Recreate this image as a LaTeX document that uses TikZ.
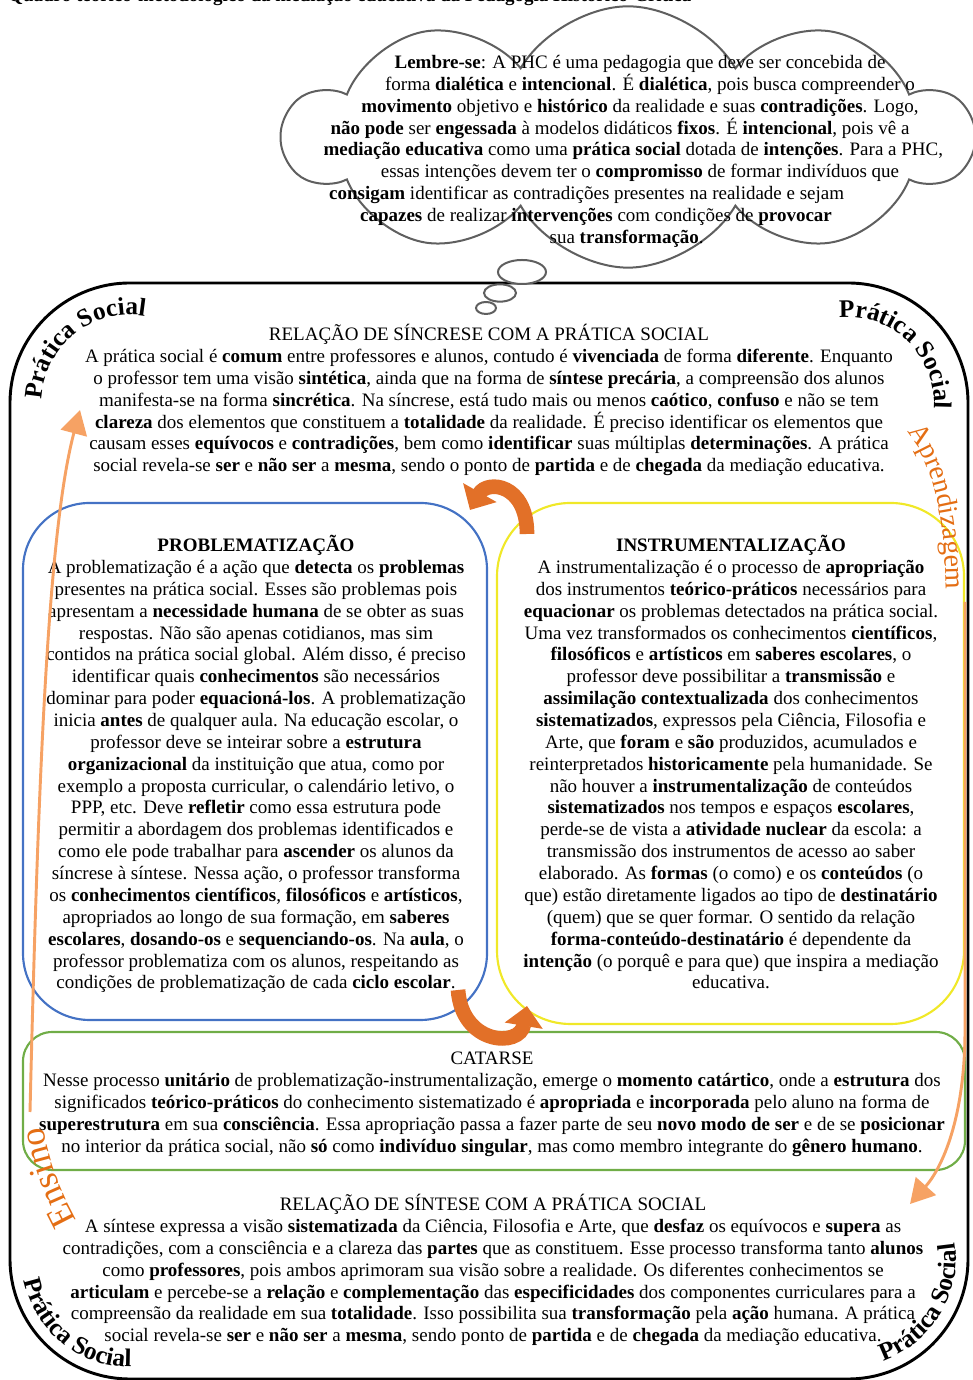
\documentclass[tikz,border=0pt]{standalone}
\usepackage{fontspec}
\setmainfont{Liberation Serif}
\usetikzlibrary{shapes.symbols,shapes.geometric,decorations.text,arrows.meta}

\definecolor{boxblue}{RGB}{68,114,196}
\definecolor{boxyellow}{RGB}{240,232,40}
\definecolor{boxgreen}{RGB}{112,173,71}
\definecolor{arrorange}{RGB}{226,112,40}
\definecolor{lineorange}{RGB}{246,162,100}
\definecolor{wordorange}{RGB}{228,110,20}
\definecolor{cloudgray}{RGB}{95,95,95}

\newcommand{\bodysize}{\fontsize{14.25}{16.4}\selectfont}
\newcommand{\kw}[1]{\textbf{#1}}
\newcommand{\padr}[1]{\rule{#1}{0pt}}

\tikzset{
  txtblock/.style={align=center, inner sep=0pt, anchor=north, font=\bodysize},
  stagebox/.style={line width=1.6pt},
  frameline/.style={line width=2.2pt, rounded corners=90pt},
  bubble/.style={ellipse, draw=cloudgray, line width=1.5pt, fill=white, inner sep=0pt},
  sidearrow/.style={lineorange, line width=2.2pt, -{Triangle[length=18pt,width=20pt]}},
  turnarrow/.style={arrorange, line width=11pt, -{Triangle[length=15pt,width=28pt]}},
  cornerword/.style={decorate, decoration={text along path, text align=center,
      text format delimiters={|}{|}, text={|\fontsize{19}{19}\bfseries\selectfont|Prática Social}}},
}

\begin{document}
\begin{tikzpicture}[x=0.75pt, y=0.75pt]
\useasboundingbox (0,0) rectangle (972,1380);

% cut title at the very top
\node[anchor=base west, inner sep=0pt, font=\bodysize\bfseries] (heading) at (8,1378)
  {Quadro teórico-metodológico da mediação educativa da Pedagogia Histórico-Crítica};

% thought cloud
\node[cloud, cloud puffs=10, cloud puff arc=120, cloud ignores aspect, minimum width=515pt,
  minimum height=196pt, draw=cloudgray, line width=1.5pt, fill=white] (thought) at (628,1243) {};
\node[txtblock] (lembre) at (640,1325) {\kw{Lembre-se}: A PHC é uma pedagogia que deve ser concebida de\\
\padr{15pt}forma \kw{dialética} e \kw{intencional}. É \kw{dialética}, pois busca compreender o\\
\kw{movimento} objetivo e \kw{histórico} da realidade e suas \kw{contradições}. Logo,\\
\kw{não pode} ser \kw{engessada} à modelos didáticos \kw{fixos}. É \kw{intencional}, pois vê a\padr{30pt}\\
\kw{mediação educativa} como uma \kw{prática social} dotada de \kw{intenções}. Para a PHC,\padr{10pt}\\
essas intenções devem ter o \kw{compromisso} de formar indivíduos que\\
\kw{consigam} identificar as contradições presentes na realidade e sejam\padr{80pt}\\
\kw{capazes} de realizar \kw{intervenções} com condições de \kw{provocar}\padr{66pt}\\
sua \kw{transformação}.\padr{20pt}};

% outer frame
\draw[frameline] (10,1) rectangle (968,1097);

% small bubbles of the cloud
\node[bubble, minimum width=36pt, minimum height=18pt] (bubbleA) at (522,1108) {};
\node[bubble, minimum width=24pt, minimum height=13pt] (bubbleB) at (500,1087) {};
\node[bubble, minimum width=15pt, minimum height=9pt] (bubbleC) at (486,1072) {};

% corner labels
\path[cornerword] (130,977) ++(180:88) arc[start angle=180, end angle=78, radius=88];
\path[cornerword] (848,977) ++(104:86) arc[start angle=104, end angle=-12, radius=86];
\path[cornerword] (130,121) ++(180:108) arc[start angle=180, end angle=282, radius=108];
\path[cornerword] (848,121) ++(284:108) arc[start angle=284, end angle=374, radius=108];

% stage boxes
\draw[stagebox, boxblue, rounded corners=50pt] (23,360) rectangle (487,877);
\draw[stagebox, boxyellow, rounded corners=55pt] (497,356) rectangle (964,877);
\draw[stagebox, boxgreen, rounded corners=22pt] (23,210) rectangle (965,348);

\node[txtblock] (sincrese) at (489,1056) {RELAÇÃO DE SÍNCRESE COM A PRÁTICA SOCIAL\\
A prática social é \kw{comum} entre professores e alunos, contudo é \kw{vivenciada} de forma \kw{diferente}. Enquanto\\
o professor tem uma visão \kw{sintética}, ainda que na forma de \kw{síntese precária}, a compreensão dos alunos\\
manifesta-se na forma \kw{sincrética}. Na síncrese, está tudo mais ou menos \kw{caótico}, \kw{confuso} e não se tem\\
\kw{clareza} dos elementos que constituem a \kw{totalidade} da realidade. É preciso identificar os elementos que\\
causam esses \kw{equívocos} e \kw{contradições}, bem como \kw{identificar} suas múltiplas \kw{determinações}. A prática\\
social revela-se \kw{ser} e \kw{não ser} a \kw{mesma}, sendo o ponto de \kw{partida} e de \kw{chegada} da mediação educativa.};

\node[txtblock] (problem) at (256,845) {\kw{PROBLEMATIZAÇÃO}\\
A problematização é a ação que \kw{detecta} os \kw{problemas}\\
presentes na prática social. Esses são problemas pois\\
apresentam a \kw{necessidade humana} de se obter as suas\\
respostas. Não são apenas cotidianos, mas sim\\
contidos na prática social global. Além disso, é preciso\\
identificar quais \kw{conhecimentos} são necessários\\
dominar para poder \kw{equacioná-los}. A problematização\\
inicia \kw{antes} de qualquer aula. Na educação escolar, o\\
professor deve se inteirar sobre a \kw{estrutura}\\
\kw{organizacional} da instituição que atua, como por\\
exemplo a proposta curricular, o calendário letivo, o\\
PPP, etc. Deve \kw{refletir} como essa estrutura pode\\
permitir a abordagem dos problemas identificados e\\
como ele pode trabalhar para \kw{ascender} os alunos da\\
síncrese à síntese. Nessa ação, o professor transforma\\
os \kw{conhecimentos científicos}, \kw{filosóficos} e \kw{artísticos},\\
apropriados ao longo de sua formação, em \kw{saberes}\\
\kw{escolares}, \kw{dosando-os} e \kw{sequenciando-os}. Na \kw{aula}, o\\
professor problematiza com os alunos, respeitando as\\
condições de problematização de cada \kw{ciclo escolar}.};

\node[txtblock] (instrument) at (731,845) {\kw{INSTRUMENTALIZAÇÃO}\\
A instrumentalização é o processo de \kw{apropriação}\\
dos instrumentos \kw{teórico-práticos} necessários para\\
\kw{equacionar} os problemas detectados na prática social.\\
Uma vez transformados os conhecimentos \kw{científicos},\\
\kw{filosóficos} e \kw{artísticos} em \kw{saberes escolares}, o\\
professor deve possibilitar a \kw{transmissão} e\\
\kw{assimilação contextualizada} dos conhecimentos\\
\kw{sistematizados}, expressos pela Ciência, Filosofia e\\
Arte, que \kw{foram} e \kw{são} produzidos, acumulados e\\
reinterpretados \kw{historicamente} pela humanidade. Se\\
não houver a \kw{instrumentalização} de conteúdos\\
\kw{sistematizados} nos tempos e espaços \kw{escolares},\\
perde-se de vista a \kw{atividade nuclear} da escola: a\\
transmissão dos instrumentos de acesso ao saber\\
elaborado. As \kw{formas} (o como) e os \kw{conteúdos} (o\\
que) estão diretamente ligados ao tipo de \kw{destinatário}\\
(quem) que se quer formar. O sentido da relação\\
\kw{forma-conteúdo-destinatário} é dependente da\\
\kw{intenção} (o porquê e para que) que inspira a mediação\\
educativa.};

\node[txtblock] (catarse) at (492,328) {CATARSE\\
Nesse processo \kw{unitário} de problematização-instrumentalização, emerge o \kw{momento catártico}, onde a \kw{estrutura} dos\\
significados \kw{teórico-práticos} do conhecimento sistematizado é \kw{apropriada} e \kw{incorporada} pelo aluno na forma de\\
\kw{superestrutura} em sua \kw{consciência}. Essa apropriação passa a fazer parte de seu \kw{novo modo de ser} e de se \kw{posicionar}\\
no interior da prática social, não \kw{só} como \kw{indivíduo singular}, mas como membro integrante do \kw{gênero humano}.};

\node[txtblock] (sintese) at (493,186) {RELAÇÃO DE SÍNTESE COM A PRÁTICA SOCIAL\\
A síntese expressa a visão \kw{sistematizada} da Ciência, Filosofia e Arte, que \kw{desfaz} os equívocos e \kw{supera} as\\
contradições, com a consciência e a clareza das \kw{partes} que as constituem. Esse processo transforma tanto \kw{alunos}\\
como \kw{professores}, pois ambos aprimoram sua visão sobre a realidade. Os diferentes conhecimentos se\\
\kw{articulam} e percebe-se a \kw{relação} e \kw{complementação} das \kw{especificidades} dos componentes curriculares para a\\
compreensão da realidade em sua \kw{totalidade}. Isso possibilita sua \kw{transformação} pela \kw{ação} humana. A prática\\
social revela-se \kw{ser} e \kw{não ser} a \kw{mesma}, sendo ponto de \kw{partida} e de \kw{chegada} da mediação educativa.};

% turning arrows between the stages
\coordinate (topstart) at (527,846);
\coordinate (topend) at (470,870);
\coordinate (lowstart) at (458,390);
\coordinate (lowend) at (527,374);
\draw[turnarrow] (topstart) .. controls (527,897) and (487,900) .. (topend);
\draw[turnarrow] (lowstart) .. controls (462,335) and (520,332) .. (lowend);

% teaching and learning
\coordinate (ensinotop) at (30,268);
\coordinate (praticaleft) at (80,970);
\coordinate (aprendlow) at (965,778);
\coordinate (praticaright) at (910,176);
\path[decorate, decoration={text along path, text align=center, text format delimiters={|}{|},
  text={|\fontsize{27}{27}\selectfont\color{wordorange}|Ensino}}]
  (82,150) .. controls (62,185) and (46,222) .. (42,264);
\path[decorate, decoration={text along path, text align=center, text format delimiters={|}{|},
  text={|\fontsize{21}{21}\selectfont\color{wordorange}|Aprendizagem}}]
  (898,957) .. controls (928,930) and (946,880) .. (946,778);
\draw[sidearrow] (ensinotop) .. controls (38,600) and (48,850) .. (praticaleft);
\draw[sidearrow] (aprendlow) -- (965,350) .. controls (965,262) and (942,212) .. (praticaright);
\end{tikzpicture}
\end{document}
